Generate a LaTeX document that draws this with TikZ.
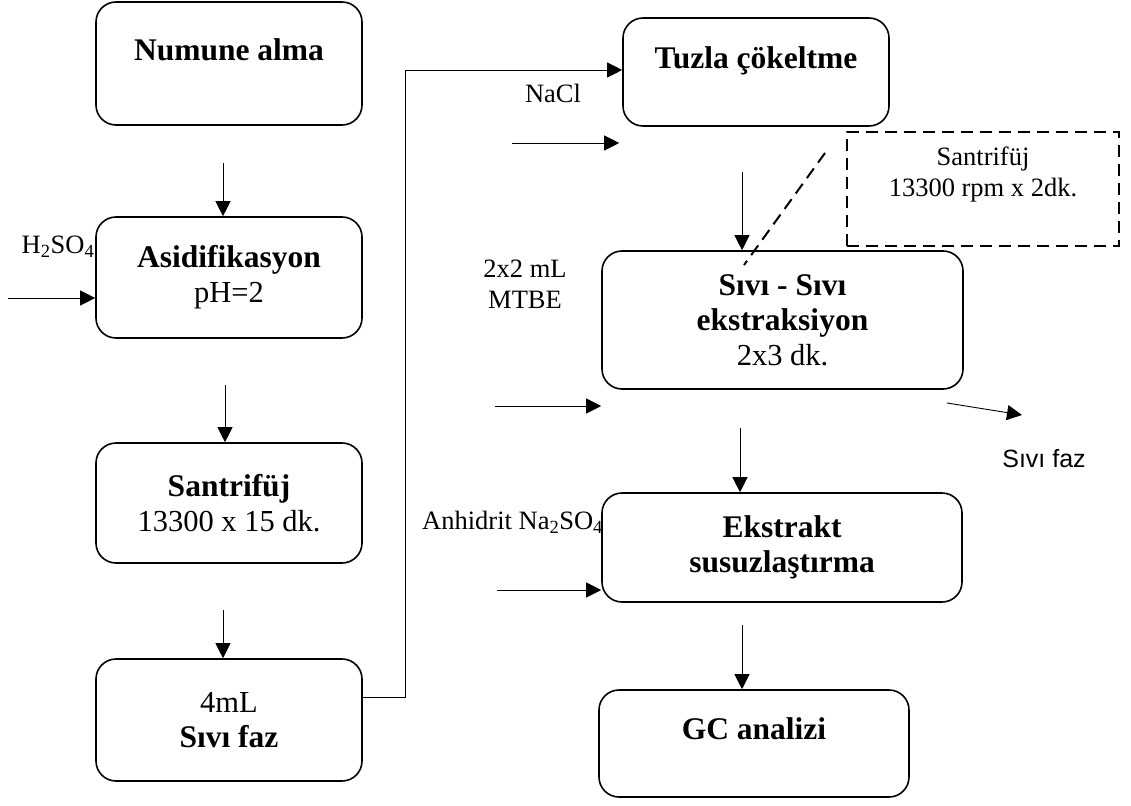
\documentclass[tikz,border=0pt]{standalone}
\usepackage{fontspec}
\setmainfont{Liberation Serif}
\newfontfamily\labelsans{Liberation Sans}
\usetikzlibrary{arrows.meta}

\newcommand\boldstep[1]{{\fontsize{31.5}{34}\selectfont\bfseries #1}}

\tikzset{
  stepbox/.style={draw, line width=1.6pt, rounded corners=20pt, align=center,
    inner sep=0pt, font=\fontsize{30.5}{35}\selectfont},
  notebox/.style={draw, line width=2pt, dash pattern=on 12pt off 7pt},
  sidetext/.style={align=center, inner sep=0pt, font=\fontsize{26.5}{31}\selectfont},
  flow/.style={-{Triangle[length=15pt,width=15pt]}, line width=0.9pt},
}

\begin{document}
\begin{tikzpicture}[x=1pt,y=-1pt]
  \useasboundingbox (0,0) rectangle (1131,805);

  % Left column
  \node[stepbox, minimum width=266pt, minimum height=123pt] (numune) at (229,63.5) {\boldstep{Numune alma}\\[-8pt]\mbox{}};
  \node[stepbox, minimum width=266pt, minimum height=121pt] (asid) at (229,277.5) {\boldstep{Asidifikasyon}\\pH=2};
  \node[stepbox, minimum width=266pt, minimum height=120pt] (santrifuj) at (229,503) {\boldstep{Santrifüj}\\13300 x 15 dk.};
  \node[stepbox, minimum width=266pt, minimum height=122pt] (sivifaz) at (229,720) {4mL\\\boldstep{Sıvı faz}};

  % Right column
  \node[stepbox, minimum width=266pt, minimum height=108pt] (tuzla) at (756,72) {\boldstep{Tuzla çökeltme}\\[-6pt]\mbox{}};
  \node[stepbox, minimum width=361pt, minimum height=138pt] (sivisivi) at (782.5,320) {\boldstep{Sıvı - Sıvı}\\\boldstep{ekstraksiyon}\\2x3 dk.};
  \node[stepbox, minimum width=360pt, minimum height=109pt] (ekstrakt) at (782,547.5) {\boldstep{Ekstrakt}\\\boldstep{susuzlaştırma}};
  \node[stepbox, minimum width=310pt, minimum height=107pt] (gc) at (754,743.5) {\boldstep{GC analizi}\\[-6pt]\mbox{}};

  % Centrifuge note
  \node[notebox, minimum width=272pt, minimum height=114pt] (santbox) at (983,189) {};
  \node[sidetext] (santtext) at ([yshift=15pt]santbox.center) {Santrifüj\\13300 rpm x 2dk.};

  % Added reagents
  \node[sidetext] (h2so4) at (58,247) {H\textsubscript{2}SO\textsubscript{4}};
  \node[sidetext] (nacl) at (553,93) {NaCl};
  \node[sidetext] (mtbe) at (525,284) {2x2 mL\\MTBE};
  \node[sidetext, anchor=west] (na2so4) at (422,522) {Anhidrit Na\textsubscript{2}SO\textsubscript{4}};
  \node[inner sep=0pt, font=\labelsans\fontsize{25}{29}\selectfont] (atik) at (1044,459) {Sıvı faz};

  % Down arrows
  \coordinate (d1) at (223,163);
  \coordinate (d2) at (225,385);
  \coordinate (d3) at (223,610);
  \coordinate (d4) at (742,172);
  \coordinate (d5) at (740,428);
  \coordinate (d6) at (742,625);
  \draw[flow] (d1) -- (d1 |- asid.north);
  \draw[flow] (d2) -- (d2 |- santrifuj.north);
  \draw[flow] (d3) -- (d3 |- sivifaz.north);
  \draw[flow] (d4) -- (d4 |- sivisivi.north);
  \draw[flow] (d5) -- (d5 |- ekstrakt.north);
  \draw[flow] (d6) -- (d6 |- gc.north);

  % Transfer to salting out
  \draw[flow] ([yshift=23pt]sivifaz.east) -- ++(43,0) |- ([yshift=2pt]tuzla.west);

  % Side inputs
  \coordinate (h2in) at (8,298);
  \coordinate (naclin) at (512,143);
  \coordinate (mtbein) at (495,406);
  \coordinate (na2in) at (497,590);
  \draw[flow] (h2in) -- (h2in -| asid.west);
  \draw[flow] (naclin) -- ([xshift=-3pt]naclin -| tuzla.west);
  \draw[flow] (mtbein) -- (mtbein -| sivisivi.west);
  \draw[flow] (na2in) -- (na2in -| ekstrakt.west);

  % Phase out
  \coordinate (outA) at (947,403);
  \coordinate (outB) at (1022,415);
  \draw[flow] (outA) -- (outB);

  % Dashed pointer
  \coordinate (dashA) at (825,153);
  \coordinate (dashB) at (744,265);
  \draw[line width=2pt, dash pattern=on 12pt off 7pt] (dashA) -- (dashB);
\end{tikzpicture}
\end{document}
